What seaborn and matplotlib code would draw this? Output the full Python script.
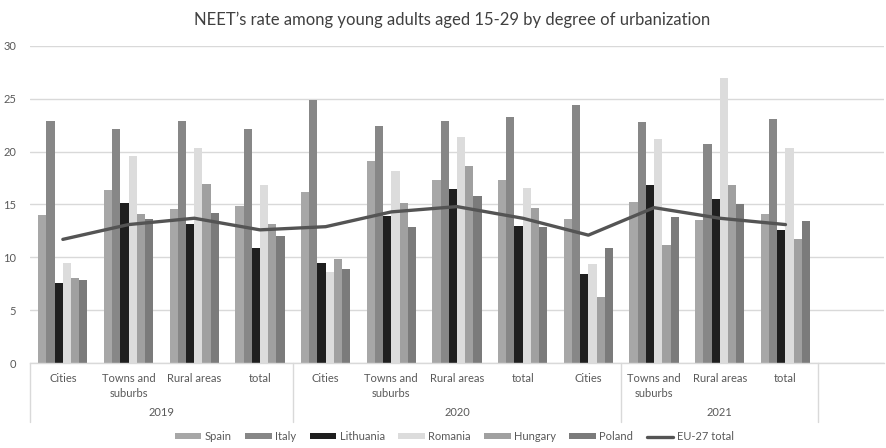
import numpy as np
import pandas as pd
import matplotlib
matplotlib.use("Agg")
import matplotlib.pyplot as plt
import matplotlib.transforms as mtransforms
import seaborn as sns

# Category axis: degree of urbanization, grouped by year
categories = ["Cities", "Towns and\nsuburbs", "Rural areas", "total",
              "Cities", "Towns and\nsuburbs", "Rural areas", "total",
              "Cities", "Towns and\nsuburbs", "Rural areas", "total"]
category_year = ["2019"] * 4 + ["2020"] * 5 + ["2021"] * 3
years = ["2019", "2020", "2021"]

# NEET rates (%) per country
spain     = [14.0, 16.4, 14.6, 14.9, 16.2, 19.1, 17.3, 17.3, 13.6, 15.2, 13.5, 14.1]
italy     = [22.9, 22.1, 22.9, 22.1, 24.9, 22.4, 22.9, 23.3, 24.4, 22.8, 20.7, 23.1]
lithuania = [7.6, 15.1, 13.2, 10.9, 9.5, 13.9, 16.5, 13.0, 8.4, 16.8, 15.5, 12.6]
romania   = [9.5, 19.6, 20.3, 16.8, 8.6, 18.2, 21.4, 16.6, 9.4, 21.2, 27.0, 20.3]
hungary   = [8.0, 14.1, 16.9, 13.2, 9.8, 15.1, 18.6, 14.7, 6.2, 11.2, 16.8, 11.7]
poland    = [7.9, 13.6, 14.2, 12.0, 8.9, 12.9, 15.8, 12.9, 10.9, 13.8, 15.0, 13.4]
eu27      = [11.7, 13.1, 13.7, 12.6, 12.9, 14.3, 14.8, 13.7, 12.1, 14.7, 13.7, 13.1]

countries = ["Spain", "Italy", "Lithuania", "Romania", "Hungary", "Poland"]
series = [spain, italy, lithuania, romania, hungary, poland]
palette = {"Spain": "#a7a7a7", "Italy": "#878787", "Lithuania": "#1f1f1f",
           "Romania": "#dcdcdc", "Hungary": "#a0a0a0", "Poland": "#7b7b7b"}

slots = [str(i) for i in range(len(categories))]
df = pd.DataFrame({
    "slot": np.tile(slots, len(countries)),
    "country": np.repeat(countries, len(categories)),
    "rate": np.concatenate(series),
})

sns.set_theme(style="white")
plt.rcParams["font.family"] = ["Lato", "DejaVu Sans"]
text_color = "#595959"
grid_color = "#d9d9d9"

fig = plt.figure(figsize=(8.87, 4.48), dpi=100)
ax = fig.add_axes([30 / 887, 85 / 448, 854 / 887, 317 / 448])

sns.barplot(data=df, x="slot", y="rate", hue="country", order=slots,
            hue_order=countries, palette=palette, width=0.75, gap=0,
            saturation=1, errorbar=None, linewidth=0, ax=ax)
sns.lineplot(x=np.arange(len(eu27)), y=eu27, color="#545454", linewidth=2.4,
             label="EU-27 total", ax=ax)

ax.set_xlim(-0.5, len(categories) + 0.5)
ax.set_ylim(0, 30)
ax.set_yticks(range(0, 31, 5))
ax.set_xticks(range(len(categories)))
ax.set_xticklabels(categories, fontsize=8, color=text_color, linespacing=1.5)
ax.set_xlabel("")
ax.set_ylabel("")
ax.tick_params(axis="x", length=0, pad=7)
ax.tick_params(axis="y", length=0, pad=10, labelsize=8, labelcolor=text_color)
ax.yaxis.grid(True, color=grid_color, linewidth=1)
ax.set_axisbelow(True)
for side in ("top", "right", "left"):
    ax.spines[side].set_visible(False)
ax.spines["bottom"].set_color(grid_color)
ax.spines["bottom"].set_linewidth(1)

# Year grouping below the category labels
trans = mtransforms.blended_transform_factory(ax.transData, ax.transAxes)
bounds = [-0.5]
for y in years:
    bounds.append(bounds[-1] + category_year.count(y))
for b in bounds:
    ax.plot([b, b], [0, -0.185], transform=trans, color=grid_color,
            linewidth=1, clip_on=False)
for y, lo, hi in zip(years, bounds[:-1], bounds[1:]):
    ax.text((lo + hi) / 2, -0.155, y, transform=trans, ha="center",
            va="center", fontsize=8, color=text_color)

fig.suptitle("NEET\u2019s rate among young adults aged 15-29 by degree of urbanization",
             x=0.51, y=0.975, fontsize=12, color="#404040")

handles, labels = ax.get_legend_handles_labels()
ax.get_legend().remove()
fig.legend(handles, labels, loc="center", bbox_to_anchor=(0.512, 0.025),
           ncol=7, frameon=False, fontsize=8, handlelength=2.4,
           handleheight=0.45, handletextpad=0.3, columnspacing=1.2,
           labelcolor=text_color)

fig.savefig("out.png", dpi=100)
